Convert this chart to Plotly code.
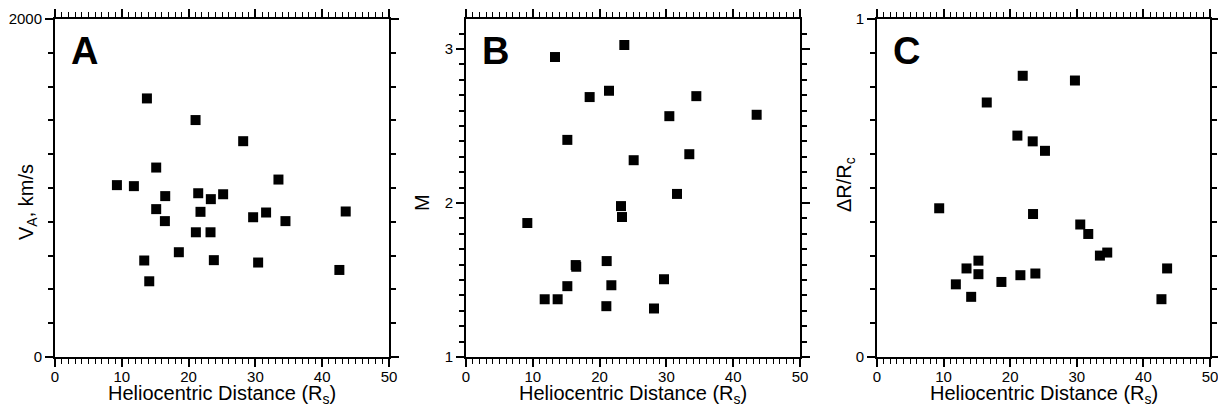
import plotly.graph_objects as go

# ---- data ----
dist_A = [13.76, 21.04, 28.17, 15.15, 9.27, 11.81, 33.45, 16.50, 21.44, 23.33, 25.17, 15.15, 21.78,
          16.45, 29.66, 31.60, 34.50, 43.52, 21.09, 23.28, 18.54, 13.36, 23.78, 30.41, 42.57, 14.11]
va_A = [1530, 1402, 1277, 1121, 1017, 1011, 1050, 952, 969, 934, 963, 875, 859,
        804, 827, 855, 804, 861, 738, 738, 620, 571, 573, 559, 515, 448]

dist_B = [23.70, 13.32, 21.41, 18.51, 34.48, 30.44, 43.51, 15.17, 25.10, 33.43, 31.59, 23.20,
          23.35, 9.18, 21.06, 16.42, 16.50, 29.64, 15.17, 21.76, 11.78, 13.72, 21.01, 28.14]
m_B = [3.026, 2.948, 2.729, 2.688, 2.694, 2.564, 2.573, 2.410, 2.278, 2.317, 2.059, 1.980,
       1.909, 1.870, 1.623, 1.597, 1.586, 1.505, 1.460, 1.466, 1.375, 1.375, 1.330, 1.315]

dist_C = [21.88, 29.72, 16.48, 21.08, 23.38, 25.22, 9.34, 23.43, 30.52, 31.72, 33.47,
          34.57, 15.23, 13.44, 15.23, 43.56, 21.53, 23.78, 18.68, 11.84, 14.14, 42.71]
dr_C = [0.832, 0.818, 0.753, 0.655, 0.638, 0.610, 0.440, 0.423, 0.392, 0.364, 0.300,
        0.309, 0.285, 0.262, 0.245, 0.262, 0.242, 0.247, 0.222, 0.215, 0.178, 0.171]

x_ticks = [0, 10, 20, 30, 40, 50]
panel_letters = ["A", "B", "C"]
y_titles = ["V<sub>A</sub>, km/s", "M", "\u0394R/R<sub>c</sub>"]
x_title = "Heliocentric Distance (R<sub>s</sub>)"

# the page body has an 8px margin: the figure starts at (8, 8) in the window
OFF = 8
W, H = 1226 - OFF, 412 - OFF
FONT = "Liberation Sans, Arial, sans-serif"


def px_x(p):
    return (p - OFF) / W


def px_y(p):
    return 1 - (p - OFF) / H


# panel pixel geometry (window pixels)
panels = [
    dict(x0=55, x1=389, yrange=[0, 2000], tick0=0, dtick=2000, minor=200),
    dict(x0=466, x1=800, yrange=[1, 3.195], tick0=1, dtick=1, minor=0.1),
    dict(x0=877, x1=1210, yrange=[0, 1], tick0=0, dtick=1, minor=0.1),
]
top_px, bot_px = 19, 357
ydom = [px_y(bot_px), px_y(top_px)]

xs = [dist_A, dist_B, dist_C]
ys = [va_A, m_B, dr_C]

fig = go.Figure()
layout = dict(
    width=W, height=H, margin=dict(l=0, r=0, t=0, b=0, autoexpand=False),
    paper_bgcolor="white", plot_bgcolor="white", showlegend=False,
    font=dict(family=FONT, color="black", size=15),
)

annotations = []
for i, p in enumerate(panels):
    xn = "x" if i == 0 else f"x{i+1}"
    yn = "y" if i == 0 else f"y{i+1}"
    xkey = "xaxis" if i == 0 else f"xaxis{i+1}"
    ykey = "yaxis" if i == 0 else f"yaxis{i+1}"

    fig.add_trace(go.Scatter(
        x=xs[i], y=ys[i], mode="markers", xaxis=xn, yaxis=yn,
        marker=dict(symbol="square", size=10, color="black", line=dict(width=0)),
        hoverinfo="skip"))

    layout[xkey] = dict(
        domain=[px_x(p["x0"]), px_x(p["x1"])], anchor=yn, range=[0, 50],
        tickvals=x_ticks, ticks="outside", ticklen=8, tickwidth=1.5, tickcolor="black",
        minor=dict(dtick=1, tick0=0, ticks="outside", ticklen=5, tickwidth=1.2, tickcolor="black"),
        showline=True, linewidth=2, linecolor="black", mirror="ticks",
        showgrid=False, zeroline=False, tickfont=dict(size=15, family=FONT),
        ticklabelstandoff=-3,
        fixedrange=True, automargin=False,
    )
    layout[ykey] = dict(
        domain=ydom, anchor=xn, range=p["yrange"], tick0=p["tick0"], dtick=p["dtick"],
        ticks="outside", ticklen=8, tickwidth=1.5, tickcolor="black",
        minor=dict(dtick=p["minor"], tick0=p["tick0"], ticks="outside", ticklen=5,
                   tickwidth=1.5, tickcolor="black"),
        showline=True, linewidth=2, linecolor="black", mirror="ticks",
        showgrid=False, zeroline=False, tickfont=dict(size=15, family=FONT),
        fixedrange=True, automargin=False,
    )

    cx = (p["x0"] + p["x1"]) / 2
    # x title
    annotations.append(dict(text=x_title, xref="paper", yref="paper",
                            x=px_x(cx), y=px_y(394), xanchor="center", yanchor="middle",
                            showarrow=False, font=dict(size=20, family=FONT)))
    # panel letter
    annotations.append(dict(text=f"<b>{panel_letters[i]}</b>", xref="paper", yref="paper",
                            x=px_x(p["x0"] + 14), y=px_y(51), xanchor="left", yanchor="middle",
                            showarrow=False, font=dict(size=38, family=FONT)))

# y titles
ytitle_pos = [(27, 202), (422, 202), (846, 185)]
for i, (px, py) in enumerate(ytitle_pos):
    annotations.append(dict(text=y_titles[i], xref="paper", yref="paper",
                            x=px_x(px), y=px_y(py), xanchor="center", yanchor="middle",
                            textangle=-90, showarrow=False, font=dict(size=20, family=FONT)))

layout["annotations"] = annotations
fig.update_layout(**layout)
fig.write_html("out.html")
